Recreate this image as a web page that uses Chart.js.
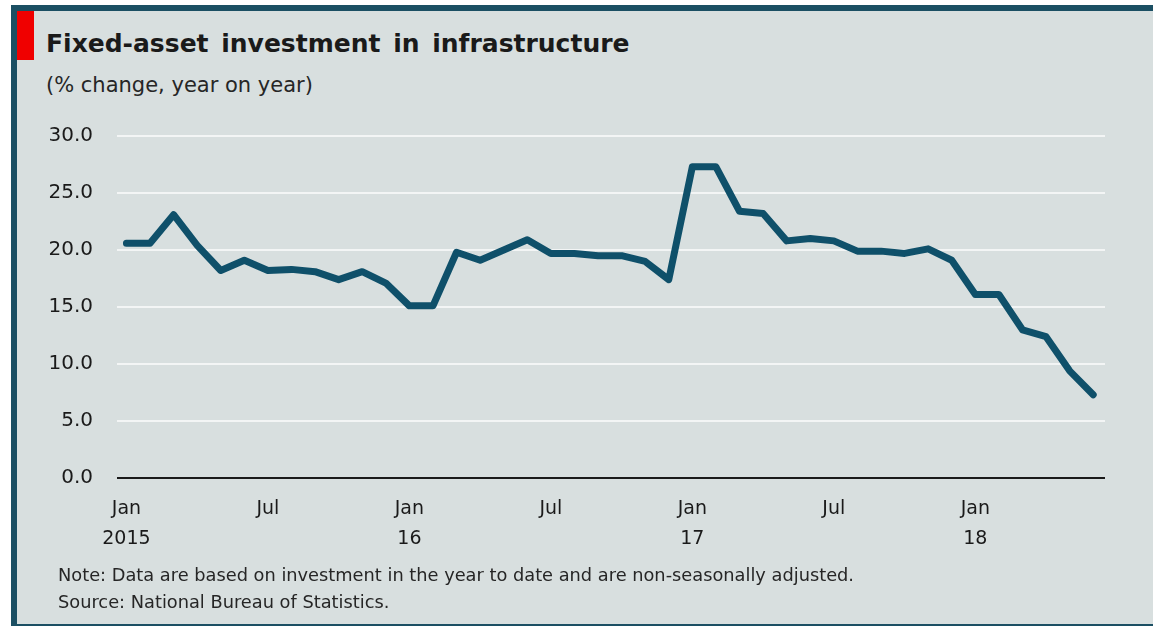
<!DOCTYPE html>
<html lang="en">

<head>
  <meta charset="utf-8" />
  <title>Fixed-asset investment in infrastructure</title>
  <script src="https://cdn.jsdelivr.net/npm/chart.js@4.4.1/dist/chart.umd.min.js"></script>
  <style>
    html, body { margin: 0; padding: 0; background: #ffffff; }
    body { width: 1153px; height: 626px; position: relative; overflow: hidden; font-family: "DejaVu Sans", sans-serif; color: #1a1a1a; }
    .panel {
      position: absolute; left: 11px; top: 5px; width: 1142px; height: 621px; box-sizing: border-box;
      background: #d8dfdf;
      border-top: 6px solid #1b4f63; border-left: 6px solid #1b4f63; border-bottom: 2px solid #1b4f63;
    }
    .flag { position: absolute; left: 17px; top: 11px; width: 17px; height: 49px; background: #f00000; }
    .title { position: absolute; left: 46px; top: 29px; font-size: 25px; font-weight: bold; line-height: 30px; word-spacing: 4px; white-space: nowrap; }
    .subtitle { position: absolute; left: 46px; top: 72px; font-size: 21px; line-height: 26px; white-space: nowrap; color: #262626; }
    .note { position: absolute; left: 58px; font-size: 17.8px; line-height: 22px; white-space: nowrap; color: #262626; }
    #chart { position: absolute; left: 0; top: 0; }
  </style>
</head>

<body>
  <div class="panel"></div>
  <div class="flag"></div>
  <div class="title">Fixed-asset investment in infrastructure</div>
  <div class="subtitle">(% change, year on year)</div>
  <canvas id="chart" width="1153" height="626"></canvas>
  <div class="note" style="top:564px">Note: Data are based on investment in the year to date and are non-seasonally adjusted.</div>
  <div class="note" style="top:591px">Source: National Bureau of Statistics.</div>

  <script>
    // monthly, year-to-date figures (Jan and Feb are reported together)
    const months = [
      'Jan 2015', 'Feb 2015', 'Mar 2015', 'Apr 2015', 'May 2015', 'Jun 2015',
      'Jul 2015', 'Aug 2015', 'Sep 2015', 'Oct 2015', 'Nov 2015', 'Dec 2015',
      'Jan 2016', 'Feb 2016', 'Mar 2016', 'Apr 2016', 'May 2016', 'Jun 2016',
      'Jul 2016', 'Aug 2016', 'Sep 2016', 'Oct 2016', 'Nov 2016', 'Dec 2016',
      'Jan 2017', 'Feb 2017', 'Mar 2017', 'Apr 2017', 'May 2017', 'Jun 2017',
      'Jul 2017', 'Aug 2017', 'Sep 2017', 'Oct 2017', 'Nov 2017', 'Dec 2017',
      'Jan 2018', 'Feb 2018', 'Mar 2018', 'Apr 2018', 'May 2018', 'Jun 2018'
    ];
    const growth = [
      20.6, 20.6, 23.1, 20.4, 18.2, 19.1, 18.2, 18.3, 18.1, 17.4, 18.1, 17.1,
      15.1, 15.1, 19.8, 19.1, 20.0, 20.9, 19.7, 19.7, 19.5, 19.5, 19.0, 17.4,
      27.3, 27.3, 23.4, 23.2, 20.8, 21.0, 20.8, 19.9, 19.9, 19.7, 20.1, 19.1,
      16.1, 16.1, 13.0, 12.4, 9.4, 7.3
    ];
    const tickMonths = ['Jan 2015', 'Jul 2015', 'Jan 2016', 'Jul 2016', 'Jan 2017', 'Jul 2017', 'Jan 2018'];
    const tickLabels = [['Jan', '2015'], ['Jul'], ['Jan', '16'], ['Jul'], ['Jan', '17'], ['Jul'], ['Jan', '18']];
    const yTicks = [0, 5, 10, 15, 20, 25, 30];

    const points = growth.map((v, i) => ({ x: i, y: v }));
    const family = '"DejaVu Sans", sans-serif';

    new Chart(document.getElementById('chart'), {
      type: 'line',
      data: {
        datasets: [{
          data: points,
          borderColor: '#0f506a',
          borderWidth: 7,
          borderCapStyle: 'round',
          borderJoinStyle: 'round',
          pointRadius: 0,
          tension: 0
        }]
      },
      options: {
        responsive: false,
        animation: false,
        events: [],
        layout: { padding: { top: 136, right: 48, bottom: 0, left: 0 } },
        plugins: { legend: { display: false }, tooltip: { enabled: false } },
        scales: {
          x: {
            type: 'linear',
            min: -0.4,
            max: months.length - 0.5,
            grid: { display: false },
            border: { display: false },
            afterFit: (scale) => { scale.height = 148; },
            afterBuildTicks: (scale) => {
              scale.ticks = tickMonths.map((m) => ({ value: months.indexOf(m) }));
            },
            ticks: {
              autoSkip: false,
              maxRotation: 0,
              padding: 9,
              color: '#1a1a1a',
              font: { family: family, size: 19, lineHeight: 1.53 },
              callback: (value) => tickLabels[tickMonths.indexOf(months[value])]
            }
          },
          y: {
            min: 0,
            max: 30,
            afterFit: (scale) => { scale.width = 117; },
            afterBuildTicks: (scale) => {
              scale.ticks = yTicks.map((v) => ({ value: v }));
            },
            border: { display: false },
            grid: {
              drawTicks: false,
              lineWidth: 2,
              color: (ctx) => ctx.tick && ctx.tick.value === 0 ? '#1a1a1a' : '#f3f5f5'
            },
            ticks: {
              padding: 24,
              color: '#1a1a1a',
              font: { family: family, size: 20 },
              callback: (value) => value.toFixed(1)
            }
          }
        }
      }
    });
  </script>
</body>

</html>
